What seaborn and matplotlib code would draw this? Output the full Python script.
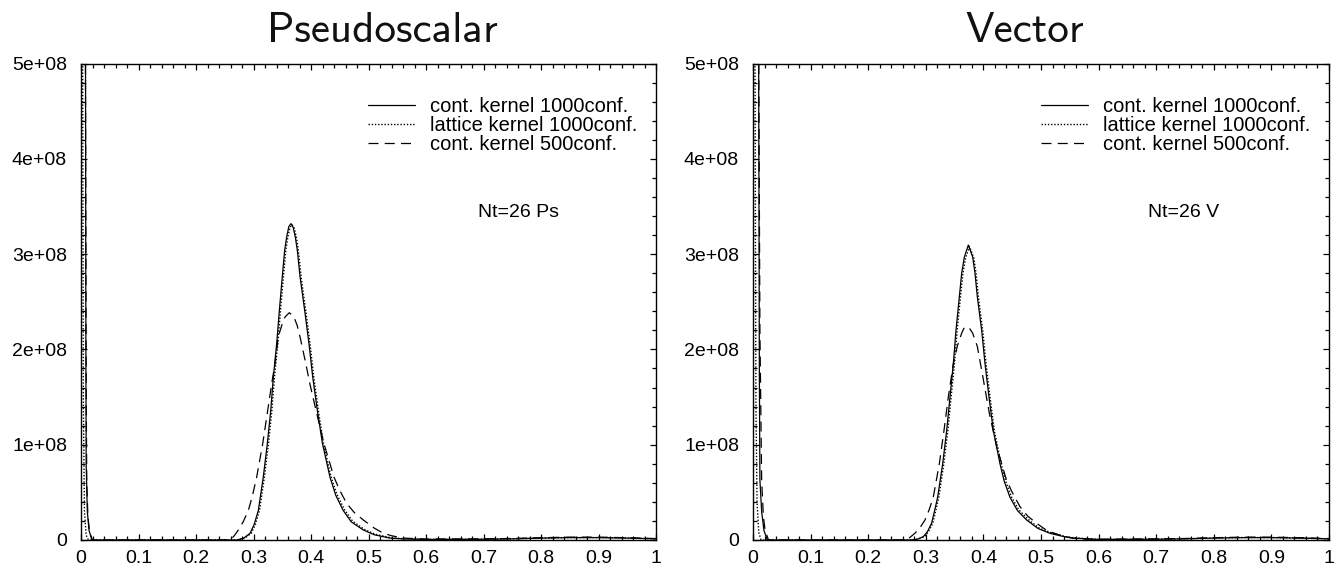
import numpy as np
import pandas as pd
import matplotlib
matplotlib.use("Agg")
import matplotlib.pyplot as plt
import seaborn as sns
from matplotlib.ticker import MultipleLocator, FixedLocator, FixedFormatter

sns.set_theme(style="ticks")
plt.rcParams['font.family'] = ['Liberation Sans', 'DejaVu Sans']

# ---------------- data (values in units of 1e8) ----------------
titles = ["Pseudoscalar", "Vector"]
annotations = ["Nt=26 Ps", "Nt=26 V"]
series_labels = ["cont. kernel 1000conf.", "lattice kernel 1000conf.", "cont. kernel 500conf."]
x_ticks = [0, 0.1, 0.2, 0.3, 0.4, 0.5, 0.6, 0.7, 0.8, 0.9, 1.0]
x_tick_labels = ["0", "0.1", "0.2", "0.3", "0.4", "0.5", "0.6", "0.7", "0.8", "0.9", "1"]
y_ticks = [0, 1e8, 2e8, 3e8, 4e8, 5e8]
y_tick_labels = ["0", "1e+08", "2e+08", "3e+08", "4e+08", "5e+08"]

# Pseudoscalar, continuum kernel, 1000 conf.
ps_c1000_x = [0.007, 0.008, 0.0085, 0.009, 0.011, 0.014, 0.019, 0.10, 0.20, 0.250, 0.271,
              0.283, 0.294, 0.301, 0.3084, 0.317, 0.324, 0.330, 0.3345, 0.3403, 0.345, 0.350,
              0.3542, 0.3577, 0.3615, 0.3652, 0.369, 0.3727, 0.3762, 0.381, 0.389, 0.3965,
              0.403, 0.411, 0.420, 0.433, 0.443, 0.456, 0.470, 0.491, 0.510, 0.537, 0.560,
              0.60, 0.70, 0.75, 0.80, 0.85, 0.90, 0.95, 1.0]
ps_c1000_y = [8.0, 4.5, 2.0, 0.8, 0.3, 0.1, 0.0, 0.0, 0.0, 0.0, 0.0,
              0.02, 0.07, 0.16, 0.31, 0.66, 1.01, 1.36, 1.71, 2.06, 2.41, 2.76,
              3.04, 3.18, 3.29, 3.32, 3.28, 3.18, 3.04, 2.76, 2.41, 2.06,
              1.71, 1.36, 1.01, 0.66, 0.47, 0.31, 0.19, 0.105, 0.055, 0.02, 0.012,
              0.006, 0.008, 0.012, 0.02, 0.025, 0.025, 0.02, 0.012]

# Pseudoscalar, lattice kernel, 1000 conf.
ps_l1000_x = [0.002, 0.003, 0.004, 0.006, 0.009, 0.013, 0.10, 0.20, 0.252, 0.273,
              0.285, 0.296, 0.303, 0.3104, 0.319, 0.326, 0.332, 0.3365, 0.3423, 0.347, 0.352,
              0.3562, 0.3597, 0.3635, 0.3672, 0.371, 0.3747, 0.3782, 0.383, 0.391, 0.3985,
              0.405, 0.413, 0.422, 0.435, 0.445, 0.458, 0.472, 0.493, 0.512, 0.540, 0.562,
              0.60, 0.70, 0.75, 0.80, 0.85, 0.90, 0.95, 1.0]
ps_l1000_y = [8.0, 4.5, 1.5, 0.3, 0.05, 0.0, 0.0, 0.0, 0.0, 0.0,
              0.02, 0.07, 0.16, 0.31, 0.66, 1.01, 1.36, 1.71, 2.06, 2.41, 2.76,
              3.04, 3.18, 3.28, 3.31, 3.27, 3.17, 3.03, 2.75, 2.40, 2.05,
              1.70, 1.35, 1.00, 0.66, 0.48, 0.32, 0.20, 0.11, 0.06, 0.022, 0.013,
              0.007, 0.009, 0.013, 0.021, 0.026, 0.026, 0.021, 0.013]

# Pseudoscalar, continuum kernel, 500 conf.
ps_c500_x = [0.007, 0.008, 0.009, 0.010, 0.012, 0.015, 0.020, 0.10, 0.20, 0.259,
             0.266, 0.2736, 0.282, 0.291, 0.298, 0.3055, 0.316, 0.3247, 0.3316, 0.3374,
             0.343, 0.349, 0.3548, 0.3623, 0.3704, 0.376, 0.381, 0.391, 0.398, 0.4087,
             0.4226, 0.440, 0.450, 0.462, 0.475, 0.491, 0.510, 0.526, 0.540, 0.560, 0.580,
             0.60, 0.70, 0.75, 0.80, 0.85, 0.90, 0.95, 1.0]
ps_c500_y = [8.0, 4.2, 1.6, 0.6, 0.25, 0.08, 0.0, 0.0, 0.0, 0.0,
             0.04, 0.105, 0.19, 0.31, 0.46, 0.66, 1.01, 1.36, 1.64, 1.85,
             2.13, 2.25, 2.34, 2.385, 2.34, 2.25, 2.13, 1.85, 1.64, 1.36,
             1.01, 0.66, 0.52, 0.385, 0.29, 0.21, 0.125, 0.07, 0.045, 0.02, 0.015,
             0.01, 0.012, 0.016, 0.024, 0.03, 0.03, 0.024, 0.015]

# Vector, continuum kernel, 1000 conf.
v_c1000_x = [0.009, 0.010, 0.011, 0.012, 0.015, 0.019, 0.025, 0.10, 0.20, 0.2726,
             0.285, 0.2957, 0.303, 0.310, 0.315, 0.3206, 0.3293, 0.3363, 0.342, 0.3478,
             0.3524, 0.3582, 0.3623, 0.367, 0.3738, 0.3814, 0.3854, 0.3895, 0.397, 0.4028,
             0.4097, 0.4172, 0.4288, 0.436, 0.446, 0.459, 0.475, 0.495, 0.5156, 0.540,
             0.5556, 0.60, 0.70, 0.75, 0.80, 0.85, 0.90, 0.95, 1.0]
v_c1000_y = [8.0, 4.5, 1.8, 0.63, 0.3, 0.1, 0.0, 0.0, 0.0, 0.0,
             0.008, 0.035, 0.09, 0.175, 0.30, 0.45, 0.80, 1.15, 1.50, 1.85,
             2.20, 2.55, 2.80, 2.97, 3.095, 2.97, 2.80, 2.55, 2.20, 1.85,
             1.50, 1.15, 0.80, 0.62, 0.45, 0.31, 0.21, 0.12, 0.07, 0.035,
             0.02, 0.006, 0.008, 0.012, 0.02, 0.025, 0.025, 0.02, 0.012]

# Vector, lattice kernel, 1000 conf.
v_l1000_x = [0.002, 0.0035, 0.005, 0.007, 0.010, 0.014, 0.10, 0.20, 0.2746,
             0.287, 0.2977, 0.305, 0.312, 0.317, 0.3226, 0.3313, 0.3383, 0.344, 0.3498,
             0.3544, 0.3602, 0.3643, 0.369, 0.3758, 0.3834, 0.3874, 0.3915, 0.399, 0.4048,
             0.4117, 0.4192, 0.4308, 0.438, 0.448, 0.461, 0.477, 0.497, 0.518, 0.542,
             0.558, 0.60, 0.70, 0.75, 0.80, 0.85, 0.90, 0.95, 1.0]
v_l1000_y = [8.0, 5.0, 1.5, 0.4, 0.08, 0.0, 0.0, 0.0, 0.0,
             0.008, 0.035, 0.09, 0.175, 0.30, 0.45, 0.80, 1.15, 1.50, 1.85,
             2.20, 2.55, 2.79, 2.96, 3.08, 2.96, 2.79, 2.54, 2.19, 1.84,
             1.49, 1.14, 0.80, 0.63, 0.46, 0.32, 0.22, 0.125, 0.075, 0.037,
             0.022, 0.007, 0.009, 0.013, 0.021, 0.026, 0.026, 0.021, 0.013]

# Vector, continuum kernel, 500 conf.
v_c500_x = [0.009, 0.010, 0.012, 0.015, 0.018, 0.021, 0.027, 0.10, 0.20, 0.261,
            0.272, 0.281, 0.290, 0.2986, 0.306, 0.313, 0.3235, 0.3316, 0.3391, 0.3478,
            0.355, 0.3623, 0.366, 0.371, 0.376, 0.3814, 0.3895, 0.400, 0.4103, 0.423,
            0.440, 0.450, 0.4635, 0.477, 0.4925, 0.510, 0.533, 0.550, 0.568, 0.60,
            0.70, 0.75, 0.80, 0.85, 0.90, 0.95, 1.0]
v_c500_y = [8.0, 5.0, 2.2, 0.63, 0.25, 0.1, 0.0, 0.0, 0.0, 0.0,
            0.025, 0.07, 0.13, 0.21, 0.32, 0.45, 0.80, 1.15, 1.50, 1.85,
            2.04, 2.17, 2.22, 2.24, 2.22, 2.17, 2.03, 1.68, 1.33, 0.98,
            0.63, 0.50, 0.35, 0.25, 0.175, 0.10, 0.05, 0.025, 0.01, 0.008,
            0.012, 0.016, 0.024, 0.03, 0.03, 0.024, 0.015]

panels = [
    [(ps_c1000_x, ps_c1000_y), (ps_l1000_x, ps_l1000_y), (ps_c500_x, ps_c500_y)],
    [(v_c1000_x, v_c1000_y), (v_l1000_x, v_l1000_y), (v_c500_x, v_c500_y)],
]
styles = [dict(linestyle="-", linewidth=0.9),
          dict(linestyle=(0, (1.0, 1.3)), linewidth=1.0),
          dict(linestyle=(0, (8, 5)), linewidth=0.9)]

# ---------------- figure ----------------
fig = plt.figure(figsize=(13.4, 5.72), dpi=100)
axes_rects = [[81 / 1340, 1 - 540 / 572, 575 / 1340, 476.5 / 572],
              [753 / 1340, 1 - 540 / 572, 576 / 1340, 476.5 / 572]]
title_pos = [(382.5 / 1340, 1 - 42 / 572), (1025 / 1340, 1 - 42 / 572)]
annot_pos = [(0.76, 0.688), (0.747, 0.688)]

for i, rect in enumerate(axes_rects):
    ax = fig.add_axes(rect)
    for (xs, ys), lab, st in zip(panels[i], series_labels, styles):
        df = pd.DataFrame({"x": xs, "y": np.array(ys) * 1e8})
        sns.lineplot(data=df, x="x", y="y", ax=ax, color="black", label=lab,
                     sort=False, estimator=None, **st)
    ax.set_xlim(0, 1)
    ax.set_ylim(0, 5e8)
    ax.xaxis.set_major_locator(FixedLocator(x_ticks))
    ax.xaxis.set_major_formatter(FixedFormatter(x_tick_labels))
    ax.yaxis.set_major_locator(FixedLocator(y_ticks))
    ax.yaxis.set_major_formatter(FixedFormatter(y_tick_labels))
    ax.xaxis.set_minor_locator(MultipleLocator(0.02))
    ax.yaxis.set_minor_locator(MultipleLocator(2e7))
    ax.tick_params(which="both", direction="in", top=True, right=True, color="black")
    ax.tick_params(which="major", length=4.5, width=0.9)
    ax.tick_params(which="minor", length=2.6, width=0.9)
    ax.tick_params(axis="x", labelsize=14, pad=7, labelcolor="black")
    ax.tick_params(axis="y", labelsize=14, pad=10, labelcolor="black")
    ax.set_xlabel("")
    ax.set_ylabel("")
    for s in ax.spines.values():
        s.set_linewidth(1.0)
        s.set_color("black")
    leg = ax.legend(loc="upper right", bbox_to_anchor=(0.968, 0.93), frameon=False,
                    fontsize=14.5, handlelength=2.35, handletextpad=0.75,
                    labelspacing=0.0, borderpad=0, borderaxespad=0)
    for t in leg.get_texts():
        t.set_color("black")
    ax.text(annot_pos[i][0], annot_pos[i][1], annotations[i], transform=ax.transAxes,
            ha="center", va="center", fontsize=14, color="black")
    fig.text(title_pos[i][0], title_pos[i][1], titles[i], ha="center", va="baseline",
             fontsize=31, family="cmss10", color="#111111")

fig.savefig("out.png", dpi=100)
